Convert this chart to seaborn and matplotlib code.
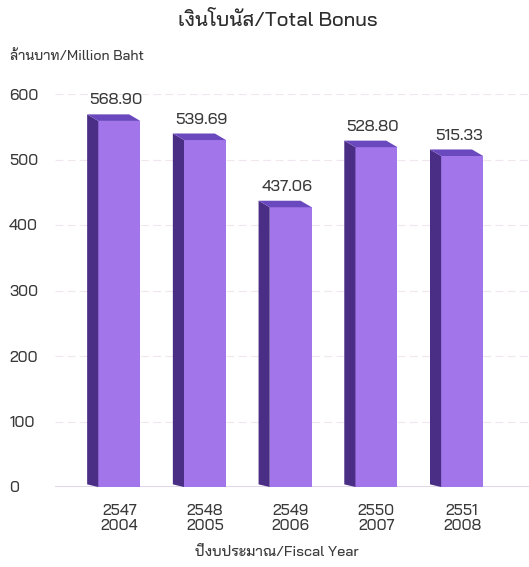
import matplotlib
matplotlib.use("Agg")
import matplotlib.pyplot as plt
from matplotlib.patches import Polygon
import seaborn as sns
import pandas as pd

# data
years_th = ["2547", "2548", "2549", "2550", "2551"]
years_en = ["2004", "2005", "2006", "2007", "2008"]
bonus = [568.90, 539.69, 437.06, 528.80, 515.33]

df = pd.DataFrame({"year": [a + "\n" + b for a, b in zip(years_th, years_en)],
                   "bonus": bonus})

sns.set_theme(style="white")
plt.rcParams["font.family"] = ["Bai Jamjuree", "DejaVu Sans"]
plt.rcParams["font.weight"] = "medium"

front = "#a276ea"
side = "#4a2d84"
top = "#6a48bd"
txt = "#3a3a3a"

fig = plt.figure(figsize=(5.29, 5.67), dpi=100)
ax = fig.add_axes([55 / 529, 80 / 567, 474 / 529, 393 / 567])

sns.barplot(data=df, x="year", y="bonus", color=front, width=0.49,
            saturation=1, ax=ax, zorder=3)

# fake 3D: shorten the front face, add a dark left side and a top face
dx, dy = 0.13, 10
for p in ax.patches:
    x = p.get_x()
    w = p.get_width()
    h = p.get_height()
    p.set_height(h - dy)
    p.set_edgecolor("none")
    side_poly = Polygon([(x, 0), (x, h - dy), (x - dx, h), (x - dx, 4)],
                        closed=True, facecolor=side, edgecolor="none", zorder=3)
    top_poly = Polygon([(x, h - dy), (x + w, h - dy), (x + w - dx, h), (x - dx, h)],
                       closed=True, facecolor=top, edgecolor="none", zorder=3)
    ax.add_patch(side_poly)
    ax.add_patch(top_poly)

for i, v in enumerate(bonus):
    ax.annotate(f"{v:.2f}", (i - 0.04, v), xytext=(0, 5), textcoords="offset points",
                ha="center", va="bottom", fontsize=11.5, color=txt)

ax.set_xlim(-0.75, 4.78)
ax.set_ylim(0, 600)
ax.set_yticks([0, 100, 200, 300, 400, 500, 600])
ax.yaxis.grid(True, color="#f1e6ef", linestyle=(0, (7, 4)), linewidth=0.8)
ax.set_axisbelow(True)
ax.axhline(0, color="#dccde6", linewidth=1.2, zorder=2)
for s in ax.spines.values():
    s.set_visible(False)

ax.tick_params(axis="y", length=0, pad=33, labelsize=11, labelcolor=txt)
ax.tick_params(axis="x", length=0, pad=12, labelsize=11, labelcolor=txt)
for lbl in ax.get_yticklabels():
    lbl.set_horizontalalignment("left")
for lbl in ax.get_xticklabels():
    lbl.set_linespacing(1.1)
ax.set_xlabel("")
ax.set_ylabel("")

fig.text(278 / 529, 1 - 20 / 567, "เงินโบนัส/Total Bonus", ha="center", va="center",
         fontsize=14.5, color="#2e2e2e")
fig.text(10 / 529, 1 - 57 / 567, "ล้านบาท/Million Baht", ha="left", va="center",
         fontsize=10, color=txt)
fig.text(277 / 529, 1 - 553 / 567, "ปีงบประมาณ/Fiscal Year", ha="center", va="center",
         fontsize=10.5, color=txt)

fig.savefig("out.png", dpi=100, facecolor="white")
